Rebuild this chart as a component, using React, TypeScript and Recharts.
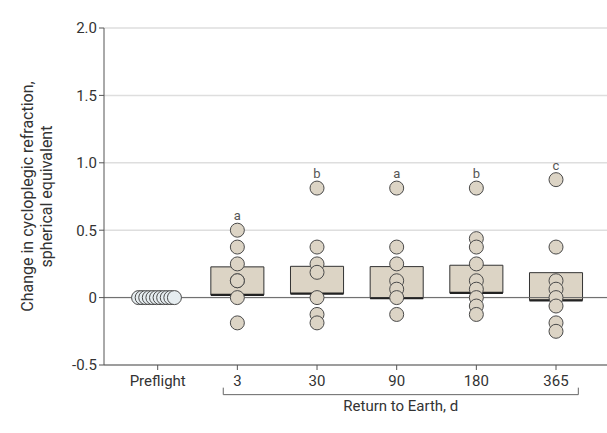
import React from 'react'
import {
  ComposedChart,
  Scatter,
  XAxis,
  YAxis,
  CartesianGrid,
  ReferenceArea,
  ReferenceLine,
  ReferenceDot,
} from 'recharts'

const categories = ['Preflight', '3', '30', '90', '180', '365']
const preflightOffsets = [-0.24, -0.195, -0.15, -0.105, -0.06, -0.015, 0.03, 0.075, 0.12, 0.165, 0.21]
const preflightValues = [0, 0, 0, 0, 0, 0, 0, 0, 0, 0, 0]
const day3 = [0.5, 0.375, 0.25, 0.125, 0.125, 0, -0.1875]
const day30 = [0.8125, 0.375, 0.25, 0.1875, 0, -0.125, -0.1875]
const day90 = [0.8125, 0.375, 0.25, 0.125, 0.0625, 0, -0.125]
const day180 = [0.8125, 0.4375, 0.375, 0.25, 0.125, 0.0625, 0, -0.0625, -0.125]
const day365 = [0.875, 0.375, 0.125, 0.0625, 0, -0.0625, -0.1875, -0.25]
const boxLow = [null, 0.02, 0.03, -0.005, 0.035, -0.02]
const boxHigh = [null, 0.228, 0.232, 0.23, 0.24, 0.185]
const sigLetters = ['', 'a', 'b', 'a', 'b', 'c']
const yTicks = [-0.5, 0, 0.5, 1.0, 1.5, 2.0]

const postflight = [day3, day30, day90, day180, day365]
const boxHalf = 0.333
const bracketY = -0.72
const bracketTickY = -0.668
const bracketStart = 0.823
const bracketEnd = 5.28

const preflightData = preflightOffsets.map((dx, i) => ({ x: dx, y: preflightValues[i] }))
const postData = postflight.flatMap((vals, i) => vals.map((y) => ({ x: i + 1, y })))

const tan = '#dcd4c5'
const ink = '#555'

function dot(fill: string) {
  return (props: any) => (
    <circle cx={props.cx} cy={props.cy} r={7} fill={fill} stroke="#4a4a4a" strokeWidth={1} />
  )
}

function YLabel(props: any) {
  const vb = props.viewBox
  const cy = vb.y + vb.height / 2
  const cx = 33
  return (
    <text transform={`rotate(-90, ${cx}, ${cy})`} x={cx} y={cy} textAnchor="middle" fill="#333" fontSize={16}>
      <tspan x={cx} dy={0}>
        Change in cycloplegic refraction,
      </tspan>
      <tspan x={cx} dy={19}>
        spherical equivalent
      </tspan>
    </text>
  )
}

export default function App() {
  return (
    <div style={{ position: 'absolute', left: 0, top: 0, fontFamily: 'Roboto, "Noto Sans", sans-serif' }}>
      <ComposedChart width={607} height={433} margin={{ top: 28, right: 0, bottom: 38, left: 44 }}>
        <CartesianGrid vertical={false} stroke="#dedede" strokeWidth={1.5} />
        <XAxis
          type="number"
          dataKey="x"
          domain={[-0.674, 5.64]}
          allowDataOverflow
          ticks={[0, 1, 2, 3, 4, 5]}
          tickFormatter={(v) => categories[v]}
          height={30}
          tickSize={5}
          tickMargin={5}
          stroke="#555"
          tick={{ fill: '#333', fontSize: 15 }}
        />
        <YAxis
          type="number"
          dataKey="y"
          domain={[-0.5, 2.0]}
          ticks={yTicks}
          tickFormatter={(v) => (v === 0 ? '0' : v.toFixed(1))}
          width={60}
          tickSize={5}
          tickMargin={2}
          stroke="#555"
          tick={{ fill: '#333', fontSize: 15 }}
          label={<YLabel />}
        />
        <ReferenceLine y={0} stroke="#666" strokeWidth={1} />
        {boxLow.map((lo, i) =>
          lo === null ? null : (
            <ReferenceArea
              key={'box' + i}
              x1={i - boxHalf}
              x2={i + boxHalf}
              y1={lo}
              y2={boxHigh[i] as number}
              fill={tan}
              fillOpacity={1}
              stroke="#333"
              strokeWidth={1}
            />
          )
        )}
        {boxLow.map((lo, i) =>
          lo === null ? null : (
            <ReferenceLine
              key={'med' + i}
              segment={[
                { x: i - boxHalf, y: lo },
                { x: i + boxHalf, y: lo },
              ]}
              stroke="#222"
              strokeWidth={2.2}
            />
          )
        )}
        <Scatter data={preflightData} shape={dot('#e6edf0')} isAnimationActive={false} />
        <Scatter data={postData} shape={dot(tan)} isAnimationActive={false} />
        {sigLetters.map((s, i) =>
          s === '' ? null : (
            <ReferenceDot
              key={'sig' + i}
              x={i}
              y={Math.max(...postflight[i - 1])}
              r={7}
              fill="none"
              stroke="none"
              label={{ value: s, position: 'top', offset: 3, fill: ink, fontSize: 13 }}
            />
          )
        )}
        <ReferenceLine
          segment={[
            { x: bracketStart, y: bracketY },
            { x: bracketEnd, y: bracketY },
          ]}
          ifOverflow="visible"
          stroke="#666"
          strokeWidth={1}
          label={{ value: 'Return to Earth, d', position: 'bottom', offset: 6, fill: '#333', fontSize: 15 }}
        />
        <ReferenceLine
          segment={[
            { x: bracketStart, y: bracketY },
            { x: bracketStart, y: bracketTickY },
          ]}
          ifOverflow="visible"
          stroke="#666"
          strokeWidth={1}
        />
        <ReferenceLine
          segment={[
            { x: bracketEnd, y: bracketY },
            { x: bracketEnd, y: bracketTickY },
          ]}
          ifOverflow="visible"
          stroke="#666"
          strokeWidth={1}
        />
      </ComposedChart>
    </div>
  )
}
